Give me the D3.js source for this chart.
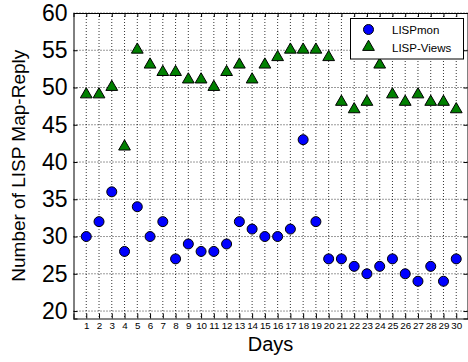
<!DOCTYPE html>
<html>
<head>
<meta charset="utf-8">
<script src="https://cdn.jsdelivr.net/npm/d3@7"></script>
<style>
  body { margin: 0; background: #fff; }
  text { font-family: "Liberation Sans", Arial, sans-serif; }
</style>
</head>
<body>
<div id="chart"></div>
<script>
const days = d3.range(1, 31);
const lispmon = [30, 32, 36, 28, 34, 30, 32, 27, 29, 28, 28, 29, 32, 31, 30, 30, 31, 43, 32, 27, 27, 26, 25, 26, 27, 25, 24, 26, 24, 27];
const lispViews = [49, 49, 50, 42, 55, 53, 52, 52, 51, 51, 50, 52, 53, 51, 53, 54, 55, 55, 55, 54, 48, 47, 48, 53, 49, 48, 49, 48, 48, 47];
const yTicks = [20, 25, 30, 35, 40, 45, 50, 55, 60];

const W = 468, H = 362;
const pLeft = 73.5, pRight = 469, pTop = 13, pBottom = 318.5;

const svg = d3.select("#chart").append("svg")
    .attr("width", W).attr("height", H);

const x = d3.scaleLinear().domain([0, 31]).range([pLeft, pRight]);
const y = d3.scaleLinear().domain([19, 60]).range([pBottom, pTop]);

// grid
const grid = svg.append("g").attr("stroke", "#000").attr("stroke-width", 0.8)
    .attr("stroke-dasharray", "1,2");
grid.selectAll("line.v").data(days).enter().append("line")
    .attr("x1", d => x(d)).attr("x2", d => x(d))
    .attr("y1", pTop).attr("y2", pBottom);
grid.selectAll("line.h").data(yTicks).enter().append("line")
    .attr("x1", pLeft).attr("x2", pRight)
    .attr("y1", d => y(d)).attr("y2", d => y(d));

// axes (ticks pointing inward)
svg.append("g").attr("transform", `translate(0,${pBottom})`)
    .call(d3.axisBottom(x).tickValues(days).tickSize(-5).tickPadding(4).tickFormat(d3.format("d")))
    .call(g => g.select(".domain").attr("stroke", "#888").attr("stroke-width", 2))
    .call(g => g.selectAll("text").attr("font-size", 9.8).attr("fill", "#000")
        .attr("font-family", "Liberation Sans, Arial, sans-serif"));

svg.append("g").attr("transform", `translate(0,${pTop})`)
    .call(d3.axisTop(x).tickValues(days).tickSize(-4).tickFormat(""))
    .call(g => g.select(".domain").attr("stroke", "#000"));

svg.append("g").attr("transform", `translate(${pLeft},0)`)
    .call(d3.axisLeft(y).tickValues(yTicks).tickSize(-4).tickPadding(6))
    .call(g => g.select(".domain").attr("stroke", "#000"))
    .call(g => g.selectAll("text").attr("font-size", 23).attr("fill", "#000")
        .attr("font-family", "Liberation Sans, Arial, sans-serif"));

svg.append("g").attr("transform", `translate(${pRight - 1.5},0)`)
    .call(d3.axisRight(y).tickValues(yTicks).tickSize(-4).tickFormat(""))
    .call(g => g.select(".domain").attr("stroke", "#000"));

// axis titles
svg.append("text")
    .attr("x", 270.5).attr("y", 351)
    .attr("text-anchor", "middle").attr("font-size", 20)
    .text("Days");
svg.append("text")
    .attr("transform", `translate(25,${(pTop + pBottom) / 2}) rotate(-90)`)
    .attr("text-anchor", "middle").attr("font-size", 19)
    .text("Number of LISP Map-Reply");

// points
const tri = d3.symbol().type(d3.symbolTriangle).size(60);
svg.append("g").selectAll("path").data(days).enter().append("path")
    .attr("d", tri)
    .attr("transform", (d, i) => `translate(${x(d)},${y(lispViews[i]) - 0.5})`)
    .attr("fill", "#008000").attr("stroke", "#000").attr("stroke-width", 1);

svg.append("g").selectAll("circle").data(days).enter().append("circle")
    .attr("cx", d => x(d)).attr("cy", (d, i) => y(lispmon[i]))
    .attr("r", 5).attr("fill", "#0000ff").attr("stroke", "#000").attr("stroke-width", 1);

// legend
const lg = svg.append("g");
lg.append("rect").attr("x", 350.5).attr("y", 18.5).attr("width", 113).attr("height", 40.5)
    .attr("fill", "#fff").attr("stroke", "#000").attr("stroke-width", 1);
lg.append("circle").attr("cx", 368.5).attr("cy", 29.5).attr("r", 5)
    .attr("fill", "#0000ff").attr("stroke", "#000");
lg.append("path").attr("d", tri).attr("transform", "translate(368.5,47)")
    .attr("fill", "#008000").attr("stroke", "#000");
lg.append("text").attr("x", 392).attr("y", 33.5).attr("font-size", 11.5).text("LISPmon");
lg.append("text").attr("x", 392).attr("y", 51.5).attr("font-size", 11.5).text("LISP-Views");
</script>
</body>
</html>
